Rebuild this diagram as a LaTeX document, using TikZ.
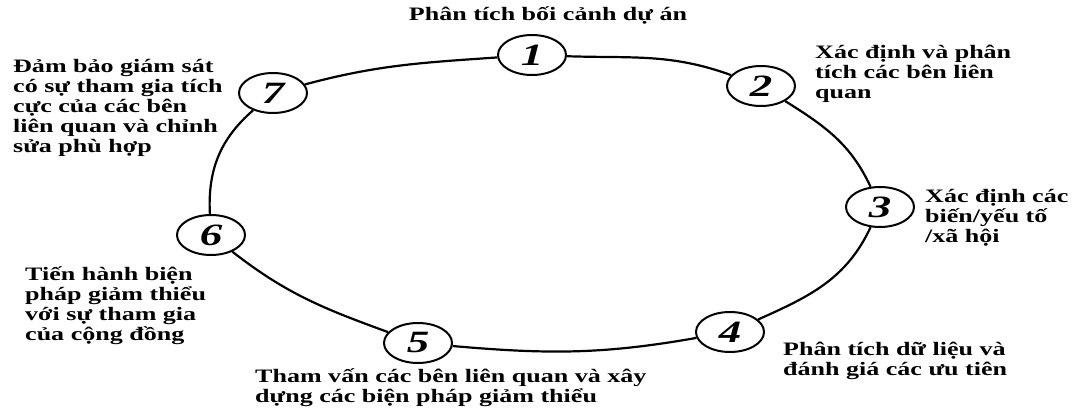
\documentclass[tikz,border=0pt]{standalone}
\usepackage{fontspec}
\setmainfont{Liberation Serif}[FakeStretch=1.37]
\newfontfamily\numfont{Liberation Serif}[FakeStretch=1.45]
\usetikzlibrary{shapes.geometric}
\tikzset{
  stage/.style={ellipse, draw, line width=2pt, fill=white,
    minimum width=68pt, minimum height=40pt, inner sep=0pt,
    font=\numfont\bfseries\itshape\fontsize{31}{31}\selectfont},
  ring/.style={line width=2.2pt},
  caption/.style={inner sep=0pt, align=left, anchor=north west,
    font=\bfseries\fontsize{19}{20}\selectfont},
}
% fixed height for the first line of every caption
\newcommand\firstline{\rule{0pt}{19pt}}

\begin{document}
\begin{tikzpicture}[x=1pt,y=1pt]
\useasboundingbox (0,0) rectangle (1072,412);

% the seven stages
\node[stage] (n1) at (532,357) {1};
\node[stage] (n2) at (761,326) {2};
\node[stage] (n3) at (880,205) {3};
\node[stage] (n4) at (730,80)  {4};
\node[stage] (n5) at (418,69)  {5};
\node[stage] (n6) at (211,177) {6};
\node[stage] (n7) at (273,319) {7};

% the cycle joining them
\draw[ring] (n1) to[out=-2,in=160]   (n2)
            (n2) to[out=-32,in=115]  (n3)
            (n3) to[out=-115,in=24]  (n4)
            (n4) to[out=190,in=-5]   (n5)
            (n5) to[out=160,in=-38]  (n6)
            (n6) to[out=93,in=-139]  (n7)
            (n7) to[out=15,in=184]   (n1);

% captions
\node[caption, anchor=north] (t1) at (548,411)
  {\firstline Phân tích bối cảnh dự án};
\node[caption] (t2) at (815,373)
  {\firstline Xác định và phân\\tích các bên liên\\quan};
\node[caption] (t3) at (925,229)
  {\firstline Xác định các\\biến/yếu tố\\/xã hội};
\node[caption] (t4) at (783,76)
  {\firstline Phân tích dữ liệu và\\đánh giá các ưu tiên};
\node[caption] (t5) at (255,49)
  {\firstline Tham vấn các bên liên quan và xây\\dựng các biện pháp giảm thiểu};
\node[caption] (t6) at (25,151)
  {\firstline Tiến hành biện\\pháp giảm thiểu\\với sự tham gia\\của cộng đồng};
\node[caption] (t7) at (13,359)
  {\firstline Đảm bảo giám sát\\có sự tham gia tích\\cực của các bên\\liên quan và chỉnh\\sửa phù hợp};
\end{tikzpicture}
\end{document}
